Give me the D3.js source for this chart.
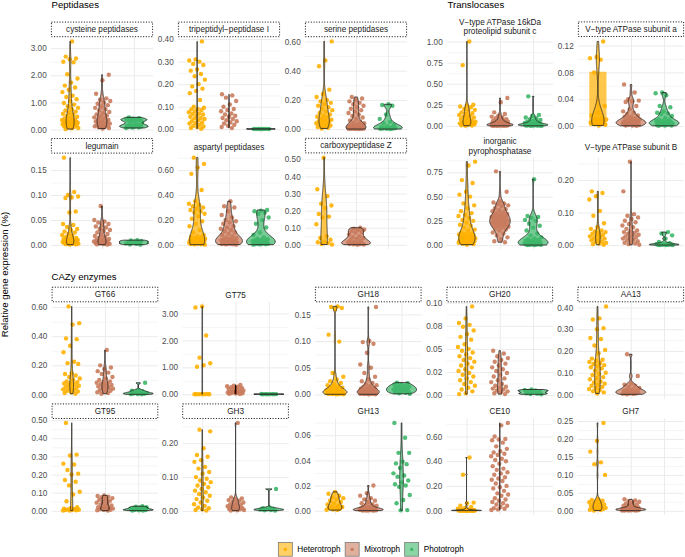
<!DOCTYPE html>
<html><head><meta charset="utf-8">
<script src="https://cdn.jsdelivr.net/npm/d3@7"></script>
<style>
body{margin:0;background:#fff}
svg{display:block}
text{font-family:"Liberation Sans",Arial,Helvetica,sans-serif}
</style>
</head><body>
<svg id="chart" width="685" height="557"></svg>
<script>
// ================= DATA =================
const groups = ["Heterotroph", "Mixotroph", "Phototroph"];
const groupColors = ["#FFB000", "#C97B5C", "#3DB769"];
const sectionTitles = ["Peptidases", "Translocases", "CAZy enzymes"];
const panelTitles = [
  "cysteine peptidases", "tripeptidyl\u2212peptidase I", "serine peptidases",
  "legumain", "aspartyl peptidases", "carboxypeptidase Z",
  "V\u2212type ATPase 16kDa\nproteolipid subunit c", "V\u2212type ATPase subunit a",
  "inorganic\npyrophosphatase", "V\u2212type ATPase subunit B",
  "GT66", "GT75", "GH18", "GH20", "AA13",
  "GT95", "GH3", "GH13", "CE10", "GH7"
];
// panels that have a dotted strip box
const panelBoxed = [true, true, true, true, false, true, false, true, false, false,
  true, false, true, true, true, true, true, false, false, false];

// values per panel: [Heterotroph, Mixotroph, Phototroph]
const cysteinePeptidases = [
  [3.25, 2.69, 2.62, 2.59, 2.5, 2.48, 2.04, 1.88, 1.73, 1.62, 1.55, 1.47, 1.38, 1.25, 1.2, 1.12, 1.05, 0.98, 0.92, 0.86, 0.8, 0.75, 0.7, 0.66, 0.62, 0.58, 0.55, 0.5, 0.47, 0.44, 0.41, 0.38, 0.36, 0.35, 0.33, 0.31, 0.3, 0.29, 0.28, 0.27, 0.26, 0.25, 0.24, 0.23, 0.22, 0.21, 0.2, 0.19, 0.18, 0.16, 0.14, 0.12, 0.1, 0.08, 0.06, 0.05, 0.02],
  [2.02, 1.82, 1.32, 1.15, 1.1, 1.05, 1.0, 0.95, 0.9, 0.85, 0.8, 0.75, 0.7, 0.65, 0.6, 0.56, 0.52, 0.48, 0.45, 0.42, 0.38, 0.35, 0.32, 0.3, 0.27, 0.25, 0.22, 0.2, 0.18, 0.16, 0.14, 0.12, 0.1, 0.08, 0.06, 0.04],
  [0.45, 0.42, 0.4, 0.39, 0.38, 0.37, 0.36, 0.35, 0.34, 0.33, 0.3, 0.26, 0.22, 0.19, 0.17, 0.15, 0.14, 0.13, 0.12, 0.11, 0.1, 0.09, 0.08, 0.07, 0.06]
];
const tripeptidylPeptidase = [
  [0.39, 0.31, 0.305, 0.3, 0.29, 0.285, 0.265, 0.26, 0.245, 0.235, 0.22, 0.2, 0.19, 0.18, 0.17, 0.16, 0.13, 0.1, 0.095, 0.09, 0.088, 0.085, 0.08, 0.075, 0.07, 0.068, 0.065, 0.06, 0.055, 0.05, 0.048, 0.045, 0.04, 0.035, 0.03, 0.028, 0.025, 0.02, 0.015, 0.012, 0.01, 0.005, 0.002],
  [0.155, 0.15, 0.14, 0.125, 0.11, 0.1, 0.09, 0.085, 0.08, 0.07, 0.065, 0.06, 0.055, 0.05, 0.045, 0.04, 0.035, 0.03, 0.025, 0.02, 0.015, 0.01, 0.005],
  [0.0012, 0.001, 0.0009, 0.0011, 0.0013, 0.0008, 0.001, 0.0014]
];
const serinePeptidases = [
  [0.6, 0.47, 0.43, 0.27, 0.24, 0.22, 0.2, 0.19, 0.18, 0.17, 0.16, 0.15, 0.14, 0.13, 0.12, 0.11, 0.1, 0.09, 0.085, 0.08, 0.07, 0.065, 0.06, 0.055, 0.05, 0.045, 0.04, 0.035, 0.03, 0.025, 0.02, 0.015, 0.01, 0.005],
  [0.22, 0.21, 0.2, 0.19, 0.18, 0.17, 0.16, 0.15, 0.14, 0.13, 0.12, 0.11, 0.1, 0.09, 0.08, 0.07, 0.06, 0.05, 0.045, 0.04, 0.035, 0.03, 0.025, 0.022, 0.02, 0.018, 0.016, 0.015, 0.013, 0.012, 0.011, 0.01, 0.009, 0.008, 0.007, 0.007, 0.006, 0.006, 0.005, 0.005, 0.004, 0.004, 0.003, 0.003, 0.002, 0.002, 0.001],
  [0.17, 0.165, 0.16, 0.1, 0.07, 0.05, 0.04, 0.03, 0.02, 0.015, 0.012, 0.01, 0.008, 0.006, 0.005, 0.004, 0.003, 0.002, 0.001]
];
const legumain = [
  [0.175, 0.106, 0.1, 0.097, 0.095, 0.094, 0.067, 0.065, 0.042, 0.04, 0.036, 0.032, 0.03, 0.027, 0.025, 0.022, 0.02, 0.018, 0.016, 0.014, 0.012, 0.012, 0.011, 0.01, 0.01, 0.009, 0.008, 0.008, 0.007, 0.006, 0.006, 0.005, 0.005, 0.004, 0.004, 0.003, 0.003, 0.0025, 0.002, 0.0015, 0.001, 0.0005],
  [0.078, 0.05, 0.047, 0.045, 0.042, 0.04, 0.037, 0.035, 0.032, 0.03, 0.028, 0.025, 0.022, 0.02, 0.018, 0.016, 0.014, 0.012, 0.011, 0.01, 0.009, 0.008, 0.007, 0.006, 0.005, 0.005, 0.004, 0.004, 0.003, 0.003, 0.002, 0.0015, 0.001, 0.0005],
  [0.0095, 0.009, 0.008, 0.007, 0.006, 0.005, 0.004, 0.003, 0.002, 0.001, 0.0005]
];
const aspartylPeptidases = [
  [0.7, 0.65, 0.62, 0.57, 0.44, 0.35, 0.33, 0.32, 0.31, 0.3, 0.29, 0.28, 0.27, 0.26, 0.25, 0.23, 0.21, 0.19, 0.17, 0.15, 0.12, 0.1, 0.08, 0.07, 0.065, 0.06, 0.055, 0.05, 0.048, 0.045, 0.042, 0.04, 0.038, 0.035, 0.032, 0.03, 0.028, 0.025, 0.022, 0.02, 0.018, 0.015, 0.012, 0.01, 0.008, 0.006, 0.005, 0.004, 0.002],
  [0.35, 0.31, 0.3, 0.27, 0.24, 0.22, 0.2, 0.19, 0.18, 0.17, 0.15, 0.14, 0.13, 0.12, 0.11, 0.1, 0.09, 0.08, 0.07, 0.06, 0.055, 0.05, 0.045, 0.042, 0.04, 0.038, 0.035, 0.032, 0.03, 0.028, 0.025, 0.022, 0.02, 0.018, 0.015, 0.012, 0.01, 0.008, 0.006, 0.005, 0.004, 0.002],
  [0.28, 0.275, 0.27, 0.26, 0.25, 0.22, 0.2, 0.17, 0.14, 0.1, 0.08, 0.06, 0.05, 0.045, 0.04, 0.038, 0.035, 0.032, 0.03, 0.028, 0.025, 0.022, 0.02, 0.018, 0.015, 0.012, 0.01, 0.008, 0.006, 0.005, 0.004, 0.002]
];
const carboxypeptidaseZ = [
  [0.51, 0.325, 0.285, 0.24, 0.23, 0.215, 0.18, 0.165, 0.16, 0.12, 0.05, 0.04, 0.03, 0.02, 0.015, 0.01, 0.005, 0.002],
  [0.1, 0.095, 0.09, 0.085, 0.08, 0.075, 0.07, 0.06, 0.05, 0.045, 0.04, 0.035, 0.03, 0.025, 0.02, 0.015, 0.012, 0.01, 0.008, 0.006, 0.005, 0.004, 0.003, 0.002, 0.001],
  []
];
const vATPase16kDa = [
  [1.0, 0.72, 0.25, 0.24, 0.23, 0.22, 0.2, 0.19, 0.18, 0.16, 0.15, 0.14, 0.13, 0.12, 0.11, 0.1, 0.09, 0.08, 0.07, 0.06, 0.05, 0.045, 0.042, 0.04, 0.035, 0.03, 0.025, 0.022, 0.018, 0.012, 0.008, 0.005, 0.002],
  [0.33, 0.28, 0.16, 0.14, 0.12, 0.11, 0.1, 0.09, 0.08, 0.07, 0.065, 0.06, 0.055, 0.05, 0.045, 0.042, 0.04, 0.038, 0.035, 0.032, 0.03, 0.028, 0.025, 0.022, 0.02, 0.018, 0.016, 0.015, 0.014, 0.012, 0.012, 0.01, 0.01, 0.009, 0.008, 0.008, 0.007, 0.006, 0.006, 0.005, 0.005, 0.004, 0.004, 0.003, 0.002, 0.002, 0.001],
  [0.35, 0.13, 0.12, 0.1, 0.09, 0.08, 0.07, 0.06, 0.05, 0.045, 0.04, 0.035, 0.03, 0.028, 0.025, 0.022, 0.02, 0.018, 0.015, 0.013, 0.012, 0.011, 0.01, 0.009, 0.008, 0.007, 0.006, 0.005, 0.005, 0.004, 0.003, 0.002, 0.001]
];
const vATPaseSubunitA = [
  [0.126, 0.103, 0.101, 0.099, 0.08, 0.03, 0.02, 0.016, 0.012, 0.011, 0.01, 0.009, 0.008, 0.007, 0.006, 0.005, 0.004, 0.003, 0.002, 0.001],
  [0.062, 0.05, 0.04, 0.038, 0.037, 0.036, 0.03, 0.025, 0.022, 0.02, 0.018, 0.016, 0.014, 0.014, 0.012, 0.012, 0.01, 0.01, 0.009, 0.008, 0.008, 0.007, 0.007, 0.006, 0.006, 0.0055, 0.005, 0.005, 0.0045, 0.004, 0.004, 0.0035, 0.003, 0.003, 0.0025, 0.002, 0.002, 0.0015, 0.001, 0.001, 0.0005],
  [0.05, 0.049, 0.046, 0.03, 0.028, 0.022, 0.02, 0.019, 0.018, 0.015, 0.012, 0.01, 0.01, 0.008, 0.008, 0.007, 0.006, 0.006, 0.005, 0.005, 0.005, 0.004, 0.004, 0.0035, 0.003, 0.003, 0.0025, 0.002, 0.002, 0.0015, 0.001, 0.001, 0.0005]
];
const subunitABar = [0.081, null, null];   // shaded bar drawn in the subunit a panel
const inorganicPyrophosphatase = [
  [0.86, 0.82, 0.67, 0.64, 0.55, 0.52, 0.5, 0.43, 0.41, 0.38, 0.35, 0.33, 0.31, 0.3, 0.28, 0.26, 0.25, 0.23, 0.21, 0.2, 0.18, 0.16, 0.15, 0.13, 0.12, 0.12, 0.11, 0.11, 0.1, 0.1, 0.09, 0.09, 0.08, 0.08, 0.07, 0.07, 0.06, 0.06, 0.055, 0.05, 0.05, 0.045, 0.04, 0.04, 0.035, 0.03, 0.03, 0.025, 0.02, 0.015, 0.01, 0.005],
  [0.76, 0.55, 0.45, 0.44, 0.43, 0.42, 0.41, 0.4, 0.38, 0.37, 0.36, 0.35, 0.34, 0.33, 0.32, 0.32, 0.31, 0.3, 0.3, 0.29, 0.29, 0.28, 0.28, 0.27, 0.27, 0.26, 0.26, 0.25, 0.25, 0.24, 0.24, 0.23, 0.23, 0.22, 0.22, 0.21, 0.21, 0.2, 0.2, 0.19, 0.19, 0.18, 0.17, 0.16, 0.15, 0.13, 0.12, 0.1, 0.08, 0.06, 0.04, 0.03],
  [0.68, 0.3, 0.29, 0.28, 0.26, 0.25, 0.22, 0.2, 0.18, 0.15, 0.12, 0.1, 0.08, 0.07, 0.06, 0.055, 0.05, 0.045, 0.04, 0.035, 0.03, 0.028, 0.025, 0.022, 0.02, 0.018, 0.015, 0.012, 0.01, 0.008, 0.006, 0.005, 0.004, 0.003, 0.002, 0.001]
];
const vATPaseSubunitB = [
  [0.165, 0.16, 0.15, 0.14, 0.105, 0.09, 0.067, 0.055, 0.05, 0.045, 0.042, 0.04, 0.037, 0.035, 0.032, 0.03, 0.027, 0.025, 0.022, 0.02, 0.017, 0.015, 0.012, 0.01, 0.007, 0.005, 0.003, 0.001],
  [0.256, 0.165, 0.095, 0.09, 0.085, 0.08, 0.075, 0.07, 0.065, 0.06, 0.055, 0.05, 0.045, 0.042, 0.04, 0.037, 0.035, 0.032, 0.03, 0.027, 0.025, 0.022, 0.02, 0.017, 0.015, 0.012, 0.01, 0.007, 0.005, 0.003, 0.001],
  [0.04, 0.036, 0.03, 0.02, 0.01, 0.006, 0.004, 0.003, 0.0025, 0.002, 0.0018, 0.0015, 0.0012, 0.001, 0.0008, 0.0006, 0.0005, 0.0003]
];
const gt66 = [
  [0.605, 0.49, 0.48, 0.385, 0.38, 0.335, 0.29, 0.225, 0.215, 0.21, 0.145, 0.14, 0.13, 0.12, 0.11, 0.1, 0.09, 0.085, 0.08, 0.075, 0.07, 0.065, 0.06, 0.055, 0.05, 0.045, 0.04, 0.035, 0.03, 0.025, 0.02, 0.015, 0.01, 0.005],
  [0.305, 0.2, 0.185, 0.175, 0.16, 0.15, 0.14, 0.12, 0.11, 0.1, 0.09, 0.085, 0.08, 0.075, 0.07, 0.065, 0.06, 0.055, 0.05, 0.045, 0.04, 0.035, 0.03, 0.025, 0.02, 0.015, 0.01, 0.005],
  [0.08, 0.03, 0.025, 0.02, 0.015, 0.01, 0.008, 0.006, 0.004, 0.003, 0.002, 0.001]
];
const gt75 = [
  [3.26, 3.22, 2.18, 1.36, 1.15, 1.08, 1.02, 0.01, 0.008, 0.006, 0.005, 0.004, 0.003, 0.002, 0.001],
  [0.35, 0.32, 0.3, 0.28, 0.26, 0.24, 0.22, 0.2, 0.18, 0.16, 0.14, 0.12, 0.1, 0.09, 0.08, 0.07, 0.06, 0.05, 0.04, 0.03, 0.02, 0.01],
  [0.01, 0.009, 0.008, 0.007, 0.006, 0.005, 0.004, 0.003]
];
const gh18 = [
  [0.165, 0.164, 0.162, 0.16, 0.112, 0.099, 0.04, 0.033, 0.028, 0.0245, 0.0215, 0.019, 0.017, 0.0155, 0.014, 0.0127, 0.0115, 0.0105, 0.0095, 0.0087, 0.0079, 0.0072, 0.0066, 0.006, 0.0055, 0.005, 0.0046, 0.0042, 0.0038, 0.0034, 0.003, 0.0027, 0.0024, 0.0021, 0.0018, 0.0015, 0.0013, 0.0011, 0.0009, 0.0007, 0.0005, 0.0003, 0.0001],
  [0.164, 0.1, 0.098, 0.095, 0.078, 0.056, 0.05, 0.04, 0.033, 0.028, 0.0245, 0.0215, 0.019, 0.017, 0.0155, 0.014, 0.0127, 0.0115, 0.0105, 0.0095, 0.0087, 0.0079, 0.0072, 0.0066, 0.006, 0.0055, 0.005, 0.0046, 0.0042, 0.0038, 0.0034, 0.003, 0.0027, 0.0024, 0.0021, 0.0018, 0.0015, 0.0013, 0.0011, 0.0009, 0.0007, 0.0005, 0.0003, 0.0001],
  [0.022, 0.021, 0.019, 0.018, 0.016, 0.015, 0.014, 0.013, 0.012, 0.011, 0.01, 0.009, 0.008, 0.007, 0.006, 0.005, 0.004, 0.003, 0.002, 0.001]
];
const gh20 = [
  [0.096, 0.083, 0.078, 0.076, 0.074, 0.07, 0.066, 0.063, 0.06, 0.055, 0.052, 0.05, 0.048, 0.046, 0.044, 0.042, 0.04, 0.038, 0.036, 0.034, 0.032, 0.03, 0.028, 0.026, 0.024, 0.022, 0.02, 0.018, 0.016, 0.014, 0.012, 0.01, 0.008, 0.006, 0.004, 0.002, 0.001],
  [0.048, 0.045, 0.042, 0.04, 0.038, 0.036, 0.034, 0.032, 0.03, 0.028, 0.026, 0.024, 0.022, 0.02, 0.018, 0.016, 0.014, 0.012, 0.01, 0.009, 0.008, 0.007, 0.006, 0.005, 0.004, 0.003, 0.002, 0.001],
  [0.006, 0.0055, 0.005, 0.0045, 0.004, 0.003, 0.002, 0.0015, 0.001, 0.0008]
];
const aa13 = [
  [0.405, 0.35, 0.345, 0.305, 0.3, 0.26, 0.255, 0.225, 0.205, 0.19, 0.165, 0.16, 0.155, 0.15, 0.145, 0.14, 0.135, 0.13, 0.125, 0.12, 0.11, 0.1, 0.095, 0.09, 0.08, 0.075, 0.07, 0.06, 0.055, 0.05, 0.045, 0.04, 0.035, 0.03, 0.025, 0.02, 0.015, 0.01, 0.005],
  [0.185, 0.085, 0.05, 0.045, 0.04, 0.035, 0.03, 0.025, 0.022, 0.02, 0.018, 0.016, 0.014, 0.012, 0.01, 0.008, 0.006, 0.005, 0.004, 0.003, 0.002, 0.001],
  []
];
const gt95 = [
  [0.485, 0.31, 0.305, 0.26, 0.255, 0.225, 0.205, 0.2, 0.17, 0.16, 0.14, 0.105, 0.09, 0.053, 0.02, 0.015, 0.012, 0.01, 0.008, 0.006, 0.005, 0.004, 0.003, 0.002, 0.001],
  [0.085, 0.082, 0.078, 0.075, 0.07, 0.065, 0.06, 0.055, 0.05, 0.045, 0.04, 0.035, 0.03, 0.025, 0.02, 0.018, 0.015, 0.012, 0.01, 0.008, 0.006, 0.005, 0.003, 0.001],
  [0.025, 0.022, 0.02, 0.018, 0.015, 0.012, 0.01, 0.008, 0.006, 0.005, 0.004, 0.003, 0.002, 0.001]
];
const gh3 = [
  [0.24, 0.235, 0.185, 0.165, 0.16, 0.15, 0.145, 0.13, 0.125, 0.115, 0.11, 0.1, 0.095, 0.09, 0.085, 0.08, 0.075, 0.07, 0.065, 0.06, 0.055, 0.05, 0.045, 0.04, 0.035, 0.03, 0.025, 0.02, 0.015, 0.01, 0.008, 0.005, 0.003, 0.001],
  [0.26, 0.04, 0.037, 0.035, 0.032, 0.03, 0.027, 0.025, 0.022, 0.02, 0.018, 0.016, 0.014, 0.012, 0.01, 0.008, 0.007, 0.006, 0.005, 0.004, 0.003, 0.002, 0.001],
  [0.065, 0.01, 0.008, 0.006, 0.005, 0.004, 0.003, 0.002, 0.001]
];
const gh13 = [
  [0.015, 0.0135, 0.012, 0.011, 0.01, 0.009, 0.008, 0.007, 0.006, 0.005, 0.004, 0.0035, 0.003, 0.0025, 0.002, 0.0015, 0.001, 0.0008, 0.0005],
  [0.02, 0.014, 0.012, 0.01, 0.009, 0.008, 0.007, 0.006, 0.005, 0.0045, 0.004, 0.0035, 0.003, 0.0025, 0.002, 0.0018, 0.0015, 0.0013, 0.0012, 0.0011, 0.001, 0.001, 0.0009, 0.0008, 0.0007, 0.0006, 0.0006, 0.0005, 0.0005, 0.0004, 0.0004, 0.0003, 0.0003, 0.0002, 0.0002, 0.0001],
  [0.0698, 0.058, 0.046, 0.046, 0.039, 0.0376, 0.037, 0.034, 0.0297, 0.028, 0.027, 0.024, 0.0225, 0.021, 0.02, 0.019, 0.0125, 0.0085, 0.0059, 0.0005, 0.0003]
];
const ce10 = [
  [0.43, 0.29, 0.065, 0.06, 0.04, 0.03, 0.02, 0.015, 0.01, 0.008, 0.006, 0.005, 0.004, 0.0035, 0.003, 0.0025, 0.002, 0.0018, 0.0015, 0.0014, 0.0012, 0.0011, 0.001, 0.0009, 0.0008, 0.0007, 0.0006, 0.0005, 0.0004, 0.0003, 0.0002, 0.0002, 0.0001],
  [0.71, 0.69, 0.6, 0.58, 0.575, 0.57, 0.55, 0.52, 0.5, 0.48, 0.47, 0.46, 0.45, 0.44, 0.42, 0.41, 0.4, 0.38, 0.36, 0.34, 0.33, 0.31, 0.3, 0.29, 0.27, 0.26, 0.25, 0.24, 0.22, 0.2, 0.19, 0.18, 0.16, 0.14, 0.13, 0.12, 0.1, 0.09, 0.08, 0.07, 0.06, 0.05, 0.04, 0.03, 0.02, 0.015, 0.01, 0.005],
  []
];
const gh7 = [
  [0.245, 0.195, 0.165, 0.135, 0.13, 0.1, 0.032, 0.03, 0.028, 0.026, 0.024, 0.022, 0.02, 0.018, 0.016, 0.014, 0.012, 0.01, 0.008, 0.007, 0.006, 0.005, 0.004, 0.003, 0.002, 0.001],
  [0.032, 0.029, 0.027, 0.025, 0.022, 0.02, 0.018, 0.016, 0.014, 0.012, 0.01, 0.009, 0.008, 0.008, 0.007, 0.007, 0.006, 0.006, 0.005, 0.005, 0.0045, 0.0045, 0.004, 0.004, 0.0035, 0.0035, 0.003, 0.003, 0.0025, 0.0025, 0.002, 0.002, 0.0015, 0.0015, 0.001, 0.001, 0.0005, 0.0005],
  []
];
const panelValues = [cysteinePeptidases, tripeptidylPeptidase, serinePeptidases, legumain,
  aspartylPeptidases, carboxypeptidaseZ, vATPase16kDa, vATPaseSubunitA, inorganicPyrophosphatase,
  vATPaseSubunitB, gt66, gt75, gh18, gh20, aa13, gt95, gh3, gh13, ce10, gh7];

// y tick values per panel
const panelTicks = [
  [0, 1, 2, 3], [0, 0.1, 0.2, 0.3, 0.4], [0, 0.2, 0.4, 0.6],
  [0, 0.05, 0.1, 0.15], [0, 0.2, 0.4, 0.6], [0, 0.1, 0.2, 0.3, 0.4, 0.5],
  [0, 0.25, 0.5, 0.75, 1], [0, 0.04, 0.08, 0.12],
  [0, 0.25, 0.5, 0.75], [0, 0.1, 0.2],
  [0, 0.2, 0.4, 0.6], [0, 1, 2, 3], [0, 0.05, 0.1, 0.15], [0, 0.025, 0.05, 0.075, 0.1], [0, 0.1, 0.2, 0.3, 0.4],
  [0, 0.1, 0.2, 0.3, 0.4, 0.5], [0, 0.1, 0.2], [0, 0.02, 0.04, 0.06], [0, 0.2, 0.4, 0.6], [0, 0.05, 0.1, 0.15, 0.2, 0.25]
];
const gh20TickLabels = ["0.00", "0.02", "0.05", "0.08", "0.10"];

// ================= LAYOUT =================
const FONT = '"Liberation Sans", Arial, Helvetica, sans-serif';
const P = {w: 102}, T = {w: 106}, C = {w: 106.5};
const layout = [
  {x: 51, w: P.w, top: 37, bottom: 133.4, ty: 29.4},
  {x: 178, w: P.w, top: 37, bottom: 133.4, ty: 29.4},
  {x: 305, w: P.w, top: 37, bottom: 133.4, ty: 29.4},
  {x: 51, w: P.w, top: 153.3, bottom: 249, ty: 145.8},
  {x: 178, w: P.w, top: 153.3, bottom: 249, ty: 146.7},
  {x: 305, w: P.w, top: 153.3, bottom: 249, ty: 145.6},
  {x: 447, w: T.w, top: 37.3, bottom: 130, ty: 26.4},
  {x: 578, w: T.w, top: 37.3, bottom: 130, ty: 29.2},
  {x: 447, w: T.w, top: 157.5, bottom: 249.2, ty: 146.2},
  {x: 578, w: T.w, top: 157.5, bottom: 249.2, ty: 147.3},
  {x: 51.7, w: C.w, top: 302, bottom: 398.7, ty: 294.5},
  {x: 182.3, w: C.w, top: 302, bottom: 398.7, ty: 295},
  {x: 315, w: C.w, top: 302, bottom: 398.7, ty: 294.5},
  {x: 446.5, w: C.w, top: 302, bottom: 398.7, ty: 294.5},
  {x: 577.5, w: C.w, top: 302, bottom: 398.7, ty: 294.5},
  {x: 51.7, w: C.w, top: 418.5, bottom: 515, ty: 411.2},
  {x: 182.3, w: C.w, top: 418.5, bottom: 515, ty: 411.2},
  {x: 315, w: C.w, top: 418.5, bottom: 515, ty: 410.7},
  {x: 446.5, w: C.w, top: 418.5, bottom: 515, ty: 410.7},
  {x: 577.5, w: C.w, top: 418.5, bottom: 515, ty: 410.7}
];

// ================= HELPERS =================
function bwNrd0(x) {
  const n = x.length;
  const s = d3.deviation(x);
  const sorted = x.slice().sort(d3.ascending);
  const iqr = d3.quantileSorted(sorted, 0.75) - d3.quantileSorted(sorted, 0.25);
  let lo = Math.min(s, iqr / 1.34);
  if (!(lo > 0)) lo = s || Math.abs(sorted[0]) || 1;
  return 0.9 * lo * Math.pow(n, -0.2);
}
function kde(x) {
  const bw = bwNrd0(x);
  const lo = d3.min(x), hi = d3.max(x);
  const n = 512, out = [];
  const k = 1 / (x.length * bw * Math.sqrt(2 * Math.PI));
  for (let i = 0; i < n; i++) {
    const y = lo + (hi - lo) * i / (n - 1);
    let s = 0;
    for (const v of x) { const u = (y - v) / bw; s += Math.exp(-0.5 * u * u); }
    out.push([y, s * k]);
  }
  return out;
}
// deterministic low-discrepancy jitter in [-1, 1]
function jit(i, gi, pi) {
  const u = ((i + 1) * 0.6180339887 + gi * 0.29 + pi * 0.17) % 1;
  return u * 2 - 1;
}

// ================= DRAW =================
const svg = d3.select("#chart");

[[51.5, 7.8], [447.5, 7.8], [51.5, 280.2]].forEach((p, i) => {
  svg.append("text").attr("x", p[0]).attr("y", p[1])
    .attr("font-size", 9.6).attr("fill", "#000").text(sectionTitles[i]);
});
svg.append("text")
  .attr("transform", "translate(7.6,274.5) rotate(-90)")
  .attr("text-anchor", "middle").attr("font-size", 9.6).attr("fill", "#000")
  .text("Relative gene expression (%)");

layout.forEach((L, pi) => {
  const vals = panelValues[pi];
  let all = vals.flat();
  if (pi === 7) all = all.concat(subunitABar.filter(v => v != null));
  const lo = d3.min(all), hi = d3.max(all), pad = (hi - lo) * 0.05;
  const y = d3.scaleLinear().domain([lo - pad, hi + pad]).range([L.bottom, L.top]);
  const x = d3.scalePoint().domain(groups).range([L.x, L.x + L.w]).padding(0.6);
  const step = x.step();
  const g = svg.append("g");

  const ticks = panelTicks[pi];
  const dt = ticks[1] - ticks[0];
  const minors = [];
  for (let k = -1; k < ticks.length; k++) {
    const m = ticks[0] + (k + 0.5) * dt;
    if (m >= y.domain()[0] && m <= y.domain()[1]) minors.push(m);
  }
  g.append("g").attr("transform", `translate(${L.x},0)`)
    .call(d3.axisLeft(y).tickValues(minors).tickSize(-L.w).tickFormat(""))
    .call(a => a.select(".domain").remove())
    .call(a => a.selectAll("line").attr("stroke", "#EBEBEB").attr("stroke-width", 0.5));
  g.append("g").attr("transform", `translate(${L.x},0)`)
    .call(d3.axisLeft(y).tickValues(ticks).tickSize(-L.w).tickFormat(""))
    .call(a => a.select(".domain").remove())
    .call(a => a.selectAll("line").attr("stroke", "#EBEBEB").attr("stroke-width", 1));
  g.append("g").attr("transform", `translate(0,${L.bottom})`)
    .call(d3.axisBottom(x).tickSize(-(L.bottom - L.top)).tickFormat(""))
    .call(a => a.select(".domain").remove())
    .call(a => a.selectAll("line").attr("stroke", "#EBEBEB").attr("stroke-width", 1));
  const fmt = pi === 13 ? ((d, i) => gh20TickLabels[i]) : d3.format(".2f");
  g.append("g").attr("transform", `translate(${L.x},0)`)
    .call(d3.axisLeft(y).tickValues(ticks).tickSize(0).tickPadding(4.3).tickFormat(fmt))
    .call(a => a.select(".domain").remove())
    .call(a => a.selectAll("text").attr("font-family", FONT).attr("font-size", 8.2).attr("fill", "#4D4D4D"));

  const cx0 = L.x + L.w / 2;
  if (panelBoxed[pi]) {
    g.append("rect").attr("x", L.x + 0.4).attr("y", L.ty - 7.3).attr("width", L.w - 0.8).attr("height", 14.6)
      .attr("fill", "#fff").attr("stroke", "#000").attr("stroke-width", 0.9)
      .attr("stroke-dasharray", "1.1,1.6");
  }
  const lines = panelTitles[pi].split("\n");
  lines.forEach((t, li) => {
    const yy = L.ty + (li - (lines.length - 1) / 2) * 9.3;
    g.append("text").attr("x", cx0).attr("y", yy).attr("dy", "0.35em")
      .attr("text-anchor", "middle").attr("font-size", 8.2).attr("fill", "#1A1A1A").text(t);
  });

  if (pi === 7) {
    subunitABar.forEach((v, gi) => {
      if (v == null) return;
      const cx = x(groups[gi]);
      g.append("rect").attr("x", cx - 0.26 * step).attr("width", 0.52 * step)
        .attr("y", y(v)).attr("height", y(0) - y(v))
        .attr("fill", groupColors[gi]).attr("fill-opacity", 0.7);
    });
  }

  vals.forEach((arr, gi) => {
    const cx = x(groups[gi]);
    g.append("g").selectAll("circle").data(arr).join("circle")
      .attr("cx", (d, i) => cx + jit(i, gi, pi) * 0.26 * step)
      .attr("cy", d => y(d))
      .attr("r", 2.2)
      .attr("fill", groupColors[gi]).attr("fill-opacity", 0.9);
  });

  const dens = vals.map(v => v.length > 1 ? kde(v) : []);
  const maxD = d3.max(dens.flat(), d => d[1]);
  dens.forEach((dd, gi) => {
    if (!dd.length) return;
    const cx = x(groups[gi]);
    const hw = d => d[1] / maxD * 0.45 * step;
    const poly = dd.map(d => [cx - hw(d), y(d[0])])
      .concat(dd.slice().reverse().map(d => [cx + hw(d), y(d[0])]));
    g.append("path").attr("d", d3.line()(poly) + "Z")
      .attr("fill", groupColors[gi]).attr("fill-opacity", 0.7)
      .attr("stroke", "#262626").attr("stroke-width", 0.85).attr("stroke-linejoin", "round");
  });
});

const leg = svg.append("g");
let lx = 278.3;
groups.forEach((name, gi) => {
  leg.append("rect").attr("x", lx).attr("y", 542.6).attr("width", 14).attr("height", 13.6)
    .attr("fill", groupColors[gi]).attr("fill-opacity", 0.6)
    .attr("stroke", "#6b6b6b").attr("stroke-width", 0.7);
  leg.append("circle").attr("cx", lx + 7).attr("cy", 549.4).attr("r", 1.7)
    .attr("fill", groupColors[gi]);
  const t = leg.append("text").attr("x", lx + 19).attr("y", 549.4).attr("dy", "0.35em")
    .attr("font-size", 8.2).attr("fill", "#000").text(name);
  lx = lx + 19 + t.node().getComputedTextLength() + 4.6;
});
</script>
</body></html>
